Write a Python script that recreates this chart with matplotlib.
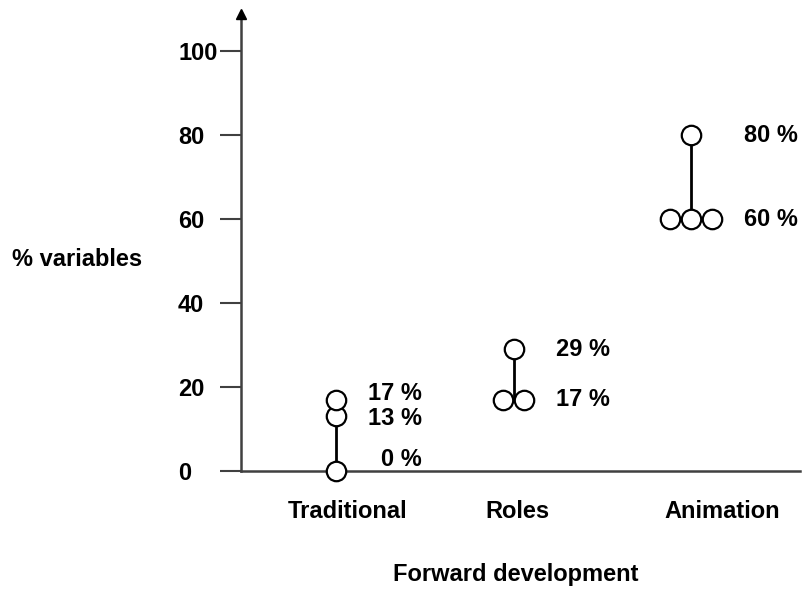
import matplotlib
matplotlib.use("Agg")
import matplotlib.pyplot as plt
import numpy as np

plt.rcParams['font.family'] = ['Liberation Sans', 'DejaVu Sans']
plt.rcParams['font.weight'] = 'bold'

categories = ['Traditional', 'Roles', 'Animation']
traditional_vals = [0, 13, 17]
roles_vals = [17, 17, 29]
animation_vals = [60, 60, 60, 80]
series = [traditional_vals, roles_vals, animation_vals]
yticks = [0, 20, 40, 60, 80, 100]
ylabel = '% variables'
xlabel = 'Forward development'

FS = 17
W, H = 802, 594
fig = plt.figure(figsize=(W / 100, H / 100), dpi=100)
ax_left, ax_right, ax_top, ax_bottom = 241, 800, 14, 471
ax = fig.add_axes([ax_left / W, 1 - ax_bottom / H, (ax_right - ax_left) / W, (ax_bottom - ax_top) / H])

unit = 177.5  # px per category
xmin = 1 - (336 - ax_left) / unit
xmax = 3 + (ax_right - 691) / unit
ax.set_xlim(xmin, xmax)
ymax = 100 * (ax_bottom - ax_top) / (ax_bottom - 51)
ax.set_ylim(0, ymax)
px_per_unit = (ax_bottom - ax_top) / ymax

dx = 21 / unit
label_dx = 86 / unit
min_gap = 25  # px between value labels
for i, vals in enumerate(series):
    xc = i + 1
    vals = np.array(vals)
    xs = np.zeros(len(vals), dtype=float)
    for v in np.unique(vals):
        idx = np.where(vals == v)[0]
        n = len(idx)
        for k, j in enumerate(idx):
            xs[j] = xc + (k - (n - 1) / 2) * dx
    ax.plot([xc, xc], [vals.min(), vals.max()], color='black', lw=2, zorder=3, clip_on=False)
    ax.plot(xs, vals, 'o', ms=14, mfc='white', mec='black', mew=1.6, zorder=4, clip_on=False, ls='none')
    xr = xs.max() + label_dx
    uv = np.unique(vals)
    offs = np.zeros(len(uv))
    offs[uv == 0] = 12  # lift the zero label above the axis
    for a in range(len(uv) - 1):
        pa = uv[a] * px_per_unit + offs[a]
        pb = uv[a + 1] * px_per_unit + offs[a + 1]
        if pb - pa < min_gap:
            push = (min_gap - (pb - pa)) / 2
            offs[a] -= push * 0.4
            offs[a + 1] += push * 1.6
    for v, o in zip(uv, offs):
        ax.annotate(f'{v} %', (xr, v), xytext=(0, o), textcoords='offset pixels',
                    ha='right', va='center', fontsize=FS, fontweight='bold')

for s in ['top', 'right']:
    ax.spines[s].set_visible(False)
axis_color = '#404040'
for s in ['left', 'bottom']:
    ax.spines[s].set_color(axis_color)
    ax.spines[s].set_linewidth(1.8)

ax.set_yticks(yticks)
ax.set_yticklabels([str(t) for t in yticks], fontsize=FS, fontweight='bold')
tick_len_px = 21
ax.tick_params(axis='y', length=tick_len_px * 0.72, width=1.5, color=axis_color,
               pad=(ax_left - 178 - tick_len_px) * 0.72)
for lab in ax.get_yticklabels():
    lab.set_horizontalalignment('left')

cat_label_pos = [1 + 12 / unit, 2 + 4 / unit, 3 + 31 / unit]
ax.set_xticks(cat_label_pos)
ax.set_xticklabels(categories, fontsize=FS, fontweight='bold')
ax.tick_params(axis='x', length=0, pad=29 * 0.72)

# arrow at top of y-axis
ax.plot([xmin], [ymax], marker='^', color='black', ms=7, clip_on=False, zorder=5)

fig.text(12 / W, 1 - 260 / H, ylabel, ha='left', va='center', fontsize=FS, fontweight='bold')
fig.text(516 / W, 1 - 575 / H, xlabel, ha='center', va='center', fontsize=FS, fontweight='bold')

fig.savefig('out.png', dpi=100)
